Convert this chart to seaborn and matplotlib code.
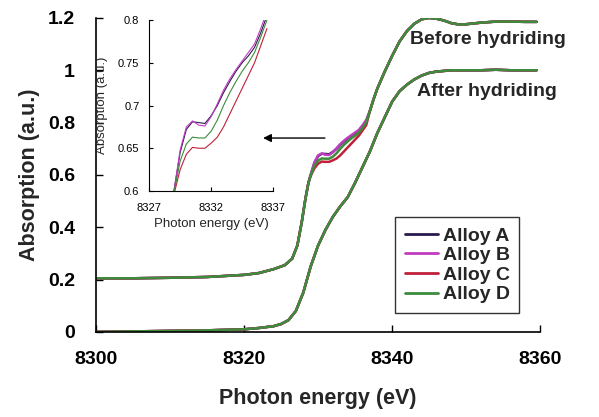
import numpy as np
import pandas as pd
import seaborn as sns
from matplotlib import pyplot as plt
from matplotlib.ticker import FuncFormatter

# energies (eV) and absorption (a.u.)
alloys = ['Alloy A', 'Alloy B', 'Alloy C', 'Alloy D']
colors = ['#2b1a4e', '#c23cc2', '#c0203a', '#3c8c3c']

# before hydriding: common lower part
before_e_low = [8300, 8305, 8310, 8315, 8320, 8322, 8324, 8325.5, 8326.5, 8327.2, 8327.8, 8328.3, 8328.7]
before_low = [0.205, 0.205, 0.207, 0.21, 0.218, 0.225, 0.24, 0.255, 0.28, 0.33, 0.42, 0.51, 0.57]

# shoulder region (also the inset), one list per alloy
shoulder_e = [8329.0, 8329.5, 8330.0, 8330.5, 8331.0, 8331.5, 8332.0, 8332.5,
              8333.0, 8333.5, 8334.0, 8334.5, 8335.0, 8335.5, 8336.0, 8336.5]
shoulder_a = [0.600, 0.645, 0.672, 0.681, 0.680, 0.679, 0.688, 0.700,
              0.715, 0.728, 0.740, 0.750, 0.758, 0.768, 0.785, 0.805]
shoulder_b = [0.600, 0.648, 0.675, 0.682, 0.677, 0.676, 0.687, 0.702,
              0.718, 0.731, 0.742, 0.752, 0.762, 0.772, 0.790, 0.810]
shoulder_c = [0.596, 0.625, 0.643, 0.651, 0.650, 0.650, 0.656, 0.663,
              0.675, 0.690, 0.705, 0.720, 0.735, 0.750, 0.770, 0.790]
shoulder_d = [0.598, 0.635, 0.655, 0.663, 0.662, 0.662, 0.670, 0.683,
              0.700, 0.715, 0.728, 0.740, 0.750, 0.762, 0.780, 0.800]

# before hydriding: common upper part
before_e_high = [8337.0, 8337.5, 8338.0, 8339.0, 8340.0, 8341.0, 8342.0, 8343.0, 8344.0, 8345.0,
                 8346.0, 8347.0, 8348.0, 8349.0, 8350.0, 8352.0, 8354.0, 8356.0, 8358.0, 8359.5]
before_high = [0.845, 0.89, 0.93, 0.995, 1.055, 1.11, 1.15, 1.178, 1.195, 1.2,
               1.197, 1.19, 1.18, 1.175, 1.176, 1.182, 1.186, 1.186, 1.185, 1.185]

# after hydriding (all alloys practically the same)
after_e = [8300, 8305, 8310, 8315, 8320, 8322, 8324, 8325, 8326, 8327, 8328, 8329, 8330, 8331,
           8332, 8333, 8334, 8335, 8336, 8337, 8338, 8339, 8340, 8341, 8342, 8343, 8344, 8345,
           8346, 8348, 8350, 8352, 8354, 8356, 8358, 8359.5]
after_abs = [0.0, 0.002, 0.004, 0.006, 0.01, 0.015, 0.022, 0.03, 0.045, 0.08, 0.15, 0.25, 0.33, 0.39,
             0.44, 0.48, 0.515, 0.57, 0.63, 0.69, 0.76, 0.82, 0.88, 0.92, 0.945, 0.965, 0.98, 0.99,
             0.995, 1.0, 1.0, 1.0, 1.002, 1.0, 1.0, 1.0]

shoulders = [shoulder_a, shoulder_b, shoulder_c, shoulder_d]

rows = []
for name, sh in zip(alloys, shoulders):
    e_before = before_e_low + shoulder_e + before_e_high
    v_before = before_low + sh + before_high
    for e, v in zip(e_before, v_before):
        rows.append((name, 'before', e, v))
    for e, v in zip(after_e, after_abs):
        rows.append((name, 'after', e, v))
df = pd.DataFrame(rows, columns=['alloy', 'state', 'energy', 'absorption'])

inset_rows = []
for name, sh in zip(alloys, shoulders):
    for e, v in zip(shoulder_e, sh):
        inset_rows.append((name, e, v))
df_in = pd.DataFrame(inset_rows, columns=['alloy', 'energy', 'absorption'])

sns.set_style('ticks')
plt.rcParams['font.family'] = ['Liberation Sans', 'DejaVu Sans']

fig = plt.figure(figsize=(5.99, 4.17), dpi=100)
ax = fig.add_axes([0.160, 0.204, 0.742, 0.753])

pal = dict(zip(alloys, colors))
sns.lineplot(data=df, x='energy', y='absorption', hue='alloy', units='state',
             estimator=None, sort=False, palette=pal, hue_order=alloys, lw=1.8, ax=ax)

ax.set_xlim(8300, 8360)
ax.set_ylim(0, 1.2)
ax.set_xticks([8300, 8320, 8340, 8360])
ax.set_yticks([0, 0.2, 0.4, 0.6, 0.8, 1.0, 1.2])
ax.yaxis.set_major_formatter(FuncFormatter(lambda v, p: '%g' % v))
ax.tick_params(direction='in', length=5, width=1, labelsize=14, colors='black')
ax.tick_params(axis='x', pad=14)
ax.tick_params(axis='y', pad=15)
for t in ax.get_xticklabels() + ax.get_yticklabels():
    t.set_fontweight('bold')
for s in ['top', 'right']:
    ax.spines[s].set_visible(False)
for s in ['left', 'bottom']:
    ax.spines[s].set_color('black')
    ax.spines[s].set_linewidth(1.2)
ax.set_xlabel('Photon energy (eV)', fontsize=15.5, fontweight='bold', labelpad=14)
ax.set_ylabel('Absorption (a.u.)', fontsize=15.5, fontweight='bold', labelpad=6)

ax.text(8342.4, 1.116, 'Before hydriding', fontsize=14, fontweight='bold', va='center')
ax.text(8343.4, 0.917, 'After hydriding', fontsize=14, fontweight='bold', va='center')

ax.annotate('', xy=(8322.2, 0.741), xytext=(8331.3, 0.741),
            arrowprops=dict(arrowstyle='-|>', color='black', lw=1, mutation_scale=12))

leg = ax.legend(loc='lower left', bbox_to_anchor=(0.673, 0.06), frameon=True, fancybox=False,
                handlelength=1.7, handletextpad=0.25, borderpad=0.5, labelspacing=0.1,
                borderaxespad=0, prop={'size': 14, 'weight': 'bold'})
leg.get_frame().set_edgecolor('black')
leg.get_frame().set_linewidth(1)
for h in leg.get_lines():
    h.set_linewidth(2)

# inset
axin = fig.add_axes([0.249, 0.542, 0.207, 0.41])
sns.lineplot(data=df_in, x='energy', y='absorption', hue='alloy', estimator=None,
             palette=pal, hue_order=alloys, lw=0.8, legend=False, ax=axin)
axin.set_xlim(8327, 8337)
axin.set_ylim(0.6, 0.8)
axin.set_xticks([8327, 8332, 8337])
axin.set_yticks([0.6, 0.65, 0.7, 0.75, 0.8])
axin.yaxis.set_major_formatter(FuncFormatter(lambda v, p: '%g' % v))
axin.tick_params(direction='in', length=3, width=0.8, labelsize=8, colors='black')
axin.tick_params(axis='x', pad=9)
axin.tick_params(axis='y', pad=7)
for s in ['top', 'right']:
    axin.spines[s].set_visible(False)
for s in ['left', 'bottom']:
    axin.spines[s].set_color('black')
    axin.spines[s].set_linewidth(0.8)
axin.set_xlabel('Photon energy (eV)', fontsize=9.5, labelpad=3)
axin.set_ylabel('Absorption (a.u.)', fontsize=9.5)
axin.yaxis.set_label_coords(-0.33, 0.5)
axin.patch.set_alpha(0)

fig.savefig('out.png', dpi=100)
